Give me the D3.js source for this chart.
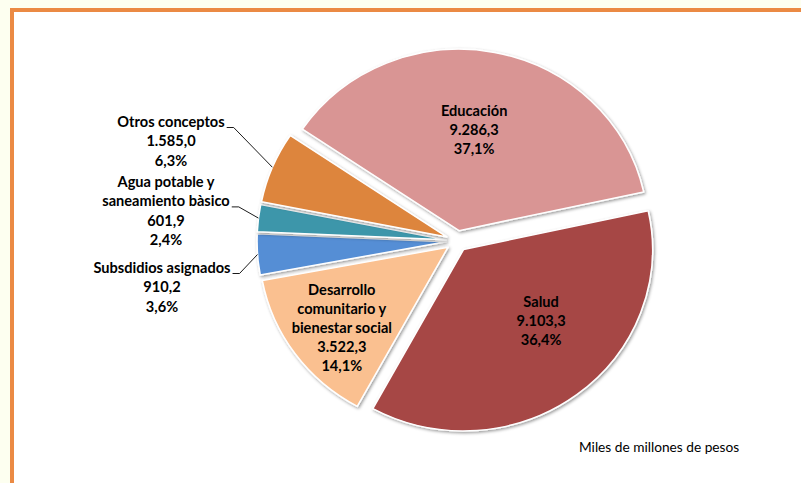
<!DOCTYPE html>
<html>
<head>
<meta charset="utf-8">
<script src="https://cdn.jsdelivr.net/npm/d3@7"></script>
<style>
  html, body { margin: 0; padding: 0; background: #FDFFF0; }
  svg { display: block; }
</style>
</head>
<body>
<svg id="chart" width="801" height="483"></svg>
<script>
// ---- data ----
const categories = ["Educación", "Salud", "Desarrollo comunitario y bienestar social",
  "Subsdidios asignados", "Agua potable y saneamiento bàsico", "Otros conceptos"];
const values = [9286.3, 9103.3, 3522.3, 910.2, 601.9, 1585.0];
const nameLines = [["Educación"], ["Salud"], ["Desarrollo", "comunitario y", "bienestar social"],
  ["Subsdidios asignados"], ["Agua potable y", "saneamiento bàsico"], ["Otros conceptos"]];
const unitNote = "Miles de millones de pesos";

// ---- style / layout ----
const colors = ["#D99594", "#A64645", "#FAC090", "#558ED5", "#3D96AA", "#DD853E"];
const W = 801, H = 483;
const cx = 457, cy = 241, R = 189, ky = 0.96, explode = 11;
const startDeg = -56;
const lineH = 19.4, innerLineH = 19;
// inner labels: [angle deg, radius fraction] relative to slice apex ; null = outside label
const innerPos = [[8.5, 0.54], [135.5, 0.585], [230.4, 0.73], null, null, null];
// outside labels: block center x, first baseline y, index of line carrying leader
const outerPos = [null, null, null, {x: 162, y: 273, lead: 0}, {x: 166, y: 187, lead: 1}, {x: 171, y: 127, lead: 0}];

const loc = d3.formatLocale({decimal: ",", thousands: ".", grouping: [3], currency: ["", ""]});
const fmtV = loc.format(",.1f");
const fmtP = loc.format(".1%");
const total = d3.sum(values);

const svg = d3.select("#chart");
const defs = svg.append("defs");
const f = defs.append("filter").attr("id", "sh").attr("x", "-10%").attr("y", "-10%").attr("width", "120%").attr("height", "120%");
f.append("feDropShadow").attr("dx", 1.2).attr("dy", 1.5).attr("stdDeviation", 1.6)
  .attr("flood-color", "#000").attr("flood-opacity", 0.4);

// frame
svg.append("rect").attr("x", 0).attr("y", 0).attr("width", W).attr("height", H).attr("fill", "#FDFFF0");
svg.append("rect").attr("x", 12).attr("y", 10).attr("width", W + 20).attr("height", H + 20)
  .attr("fill", "#FFFFFF").attr("stroke", "#EB8A44").attr("stroke-width", 4);

const pie = d3.pie().sort(null).value(d => d)
  .startAngle(startDeg * Math.PI / 180).endAngle(startDeg * Math.PI / 180 + 2 * Math.PI);
const arcs = pie(values);
const arc = d3.arc().innerRadius(0).outerRadius(R);

function offsetOf(d) {
  const m = (d.startAngle + d.endAngle) / 2;
  return [explode * Math.sin(m), -explode * Math.cos(m)];
}
function toScreen(d, angRad, r) {
  const o = offsetOf(d);
  return [cx + o[0] + r * Math.sin(angRad), cy + ky * (o[1] - r * Math.cos(angRad))];
}

const g = svg.append("g").attr("transform", `translate(${cx},${cy}) scale(1,${ky})`);
g.selectAll("path").data(arcs).join("path")
  .attr("transform", d => { const o = offsetOf(d); return `translate(${o[0]},${o[1]})`; })
  .attr("d", arc)
  .attr("fill", (d, i) => colors[i])
  .attr("stroke", "#FFFFFF").attr("stroke-width", 1.6).attr("stroke-linejoin", "round")
  .attr("filter", "url(#sh)");

const font = "Lato, 'Open Sans', sans-serif";
const labels = svg.append("g").attr("font-family", font).attr("font-weight", 700)
  .attr("font-size", "14.6px").attr("fill", "#000").attr("text-anchor", "middle");

arcs.forEach((d, i) => {
  const lines = nameLines[i].concat([fmtV(values[i]), fmtP(values[i] / total)]);
  if (innerPos[i]) {
    const p = toScreen(d, innerPos[i][0] * Math.PI / 180, innerPos[i][1] * R);
    const y0 = p[1] - (lines.length - 1) * innerLineH / 2 + 1;
    const t = labels.append("text");
    lines.forEach((s, k) => t.append("tspan").attr("x", p[0]).attr("y", y0 + k * innerLineH).text(s));
  } else {
    const op = outerPos[i];
    const t = labels.append("text");
    const spans = lines.map((s, k) => t.append("tspan").attr("x", op.x).attr("y", op.y + k * lineH).text(s));
    const bb = spans[op.lead].node().getComputedTextLength();
    const ex = op.x + bb / 2 + 2, ey = op.y + op.lead * lineH + 0.5;
    const m = (d.startAngle + d.endAngle) / 2;
    const pt = toScreen(d, m, R);
    svg.append("polyline")
      .attr("points", [[ex, ey], [ex + 7, ey], pt].map(q => q.join(",")).join(" "))
      .attr("fill", "none").attr("stroke", "#000").attr("stroke-width", 0.9);
  }
});

svg.append("text").attr("x", 579).attr("y", 452).attr("font-family", font)
  .attr("font-size", "13.7px").attr("fill", "#000").text(unitNote);
</script>
</body>
</html>
